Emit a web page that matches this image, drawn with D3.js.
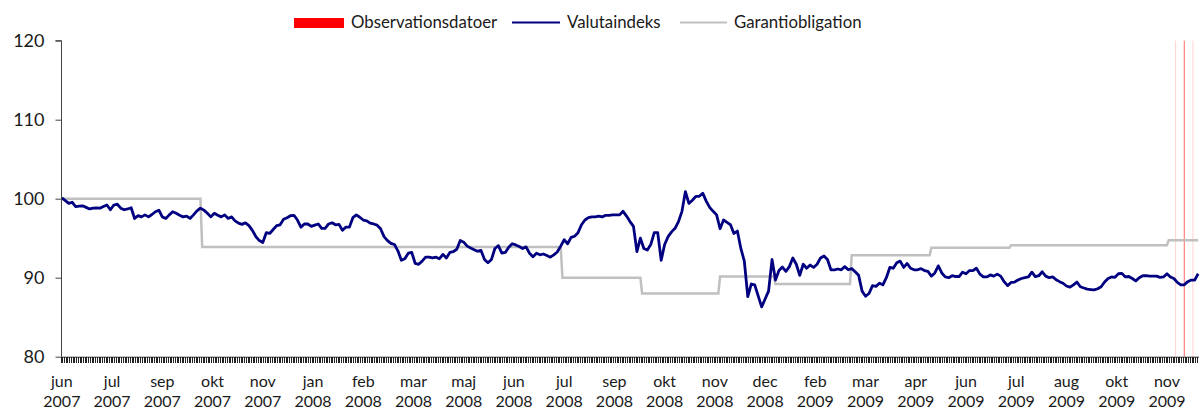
<!DOCTYPE html>
<html>
<head>
<meta charset="utf-8">
<script src="https://cdn.jsdelivr.net/npm/d3@7"></script>
<style>
  body { margin: 0; background: #fff; }
  svg text { font-family: Lato, "Open Sans", sans-serif; fill: #1a1a1a; }
</style>
</head>
<body>
<svg width="1200" height="410"></svg>
<script>
// daily categories on the x axis, a label every 29th day
var nDays = 657;
var labelEvery = 29;
var monthLabels = ['jun', 'jul', 'sep', 'okt', 'nov', 'jan', 'feb', 'mar', 'maj', 'jun', 'jul', 'sep',
    'okt', 'nov', 'dec', 'feb', 'mar', 'apr', 'jun', 'jul', 'aug', 'okt', 'nov'];
var yearLabels = ['2007', '2007', '2007', '2007', '2007', '2008', '2008', '2008', '2008', '2008', '2008', '2008',
    '2008', '2008', '2008', '2009', '2009', '2009', '2009', '2009', '2009', '2009', '2009'];
var yTicks = [80, 90, 100, 110, 120];

// Valutaindeks, read every second day
var valutaStep = 2;
var valutaindeks = [
    100.1, 99.75, 99.4, 99.55, 99.0, 99.05, 99.1, 98.9, 98.7, 98.8,
    98.85, 98.8, 99.0, 99.2, 98.6, 99.2, 99.3, 98.8, 98.6, 98.7,
    98.85, 97.5, 97.85, 97.7, 97.95, 97.7, 98.0, 98.35, 98.55, 97.7,
    97.5, 97.95, 98.35, 98.15, 97.9, 97.7, 97.8, 97.5, 97.95, 98.45,
    98.8, 98.55, 98.15, 97.7, 98.15, 97.9, 97.7, 97.95, 97.5, 97.7,
    97.2, 96.9, 96.75, 96.95, 96.6, 96.0, 95.2, 94.7, 94.45, 95.7,
    95.6, 96.1, 96.6, 96.7, 97.4, 97.6, 97.85, 97.9, 97.3, 96.4,
    96.8, 96.8, 96.5, 96.65, 96.8, 96.25, 96.25, 96.8, 96.95, 96.7,
    96.75, 96.0, 96.4, 96.4, 97.6, 97.95, 97.65, 97.3, 97.2, 96.9,
    96.8, 96.65, 96.2, 95.2, 94.7, 94.35, 94.2, 93.4, 92.2, 92.4,
    93.1, 93.2, 91.8, 91.7, 92.1, 92.6, 92.6, 92.5, 92.6, 92.4,
    92.95, 92.5, 93.2, 93.3, 93.6, 94.7, 94.5, 94.0, 93.75, 93.55,
    93.35, 93.45, 92.3, 91.9, 92.3, 93.7, 94.05, 93.1, 93.2, 93.85,
    94.3, 94.15, 93.95, 93.7, 93.9, 93.1, 92.65, 93.1, 92.9, 93.0,
    92.8, 92.6, 92.9, 93.25, 94.0, 94.8, 94.3, 95.1, 95.25, 95.7,
    96.7, 97.3, 97.6, 97.7, 97.7, 97.8, 97.7, 97.9, 97.9, 97.95,
    97.95, 97.95, 98.4, 97.8, 97.1, 96.5, 93.3, 95.0, 93.7, 93.5,
    94.2, 95.7, 95.7, 92.2, 94.2, 95.2, 95.8, 96.25, 97.1, 98.4,
    100.9, 99.4, 99.8, 100.3, 100.3, 100.7, 99.7, 98.9, 98.4, 97.95,
    96.2, 97.3, 97.0, 96.7, 95.6, 95.9, 93.7, 92.1, 87.6, 89.2,
    89.1, 87.7, 86.3, 87.3, 88.3, 92.3, 89.7, 90.9, 91.35, 90.8,
    91.4, 92.5, 91.7, 90.3, 91.7, 91.2, 91.6, 91.3, 91.7, 92.5,
    92.75, 92.3, 91.0, 91.0, 91.1, 91.0, 91.4, 91.0, 91.15, 90.75,
    90.3, 88.3, 87.65, 88.0, 89.0, 88.9, 89.3, 89.1, 90.0, 91.3,
    91.2, 91.9, 92.1, 91.3, 91.8, 91.2, 91.0, 91.0, 91.15, 90.9,
    90.8, 90.2, 90.6, 91.5, 90.6, 90.1, 90.0, 90.25, 90.15, 90.15,
    90.7, 90.5, 90.9, 90.9, 91.2, 90.45, 90.1, 90.1, 90.35, 90.2,
    90.45, 90.2, 89.5, 89.0, 89.4, 89.45, 89.7, 89.9, 90.0, 90.1,
    90.7, 90.15, 90.25, 90.75, 90.2, 90.0, 90.1, 89.75, 89.5, 89.3,
    88.95, 88.8, 89.1, 89.45, 88.85, 88.7, 88.55, 88.5, 88.45, 88.6,
    88.85, 89.45, 89.9, 90.1, 90.05, 90.5, 90.55, 90.1, 90.15, 89.9,
    89.6, 90.0, 90.25, 90.25, 90.2, 90.2, 90.2, 90.05, 90.1, 90.5,
    90.1, 89.9, 89.4, 89.1, 89.1, 89.5, 89.7, 89.7, 90.5
];

// Garantiobligation: first day of each level and the level
var garantiStart = [0, 81, 289, 335, 380, 412, 456, 502, 548, 639];
var garantiValue = [100, 93.9, 90.0, 88.0, 90.15, 89.2, 92.85, 93.8, 94.1, 94.75];

// Observationsdatoer
var observationDays = [643, 648, 653];

var svg = d3.select('svg');

var plotLeft = 61;
var plotRight = 1199;
var plotTop = 40.7;
var plotBottom = 356.7;

var x = d3.scaleBand().domain(d3.range(nDays)).range([plotLeft, plotRight]);
var cx = function (d) { return x(d) + x.bandwidth() / 2; };
var y = d3.scaleLinear().domain([80, 120]).range([plotBottom, plotTop]);

// observation lines
svg.append('g')
    .selectAll('line')
    .data(observationDays)
    .enter()
        .append('line')
        .attr('x1', cx).attr('x2', cx)
        .attr('y1', y(120)).attr('y2', y(80))
        .attr('stroke', '#ff0000')
        .attr('stroke-width', 1)
        .attr('stroke-opacity', function (d, i) { return i === 1 ? 0.6 : 0.18; });

// garantiobligation, held flat until the next level
var garantiPoints = [];
garantiStart.forEach(function (s, i) {
    var end = i < garantiStart.length - 1 ? garantiStart[i + 1] - 1 : nDays - 1;
    garantiPoints.push([s, garantiValue[i]]);
    garantiPoints.push([end, garantiValue[i]]);
});

var line = d3.line()
    .x(function (d) { return cx(d[0]); })
    .y(function (d) { return y(d[1]); });

svg.append('path')
    .datum(garantiPoints)
    .attr('fill', 'none')
    .attr('stroke', '#c0c0c0')
    .attr('stroke-width', 2.5)
    .attr('d', line);

svg.append('path')
    .datum(valutaindeks.map(function (v, i) { return [i * valutaStep, v]; }))
    .attr('fill', 'none')
    .attr('stroke', '#000080')
    .attr('stroke-width', 2.8)
    .attr('stroke-linejoin', 'round')
    .attr('d', line);

// y axis
var yAxis = svg.append('g')
    .attr('transform', 'translate(' + (plotLeft + 0.5) + ',0)')
    .call(d3.axisLeft(y).tickValues(yTicks).tickSize(6).tickPadding(11).tickFormat(d3.format('d')));
yAxis.select('.domain').attr('stroke', '#444').attr('d', 'M-6,' + plotTop + 'H0V' + plotBottom);
yAxis.selectAll('.tick line').attr('stroke', '#444');
yAxis.selectAll('.tick text').attr('font-size', 18).attr('font-family', 'Lato, sans-serif').attr('fill', '#1a1a1a');

// x axis: one tick per day
svg.append('line')
    .attr('x1', plotLeft).attr('x2', plotRight)
    .attr('y1', plotBottom + 0.5).attr('y2', plotBottom + 0.5)
    .attr('stroke', '#333');

svg.append('g')
    .attr('shape-rendering', 'crispEdges')
    .selectAll('line')
    .data(d3.range(nDays))
    .enter()
        .append('line')
        .attr('x1', function (d) { return x(d); })
        .attr('x2', function (d) { return x(d); })
        .attr('y1', plotBottom)
        .attr('y2', plotBottom + 6)
        .attr('stroke', '#222');

var xLabels = svg.append('g')
    .selectAll('text')
    .data(monthLabels)
    .enter()
        .append('text')
        .attr('text-anchor', 'middle')
        .attr('font-size', 16)
        .attr('transform', function (d, i) { return 'translate(' + cx(i * labelEvery) + ',0)'; });
xLabels.append('tspan').attr('x', 0).attr('y', 387).text(function (d) { return d; });
xLabels.append('tspan').attr('x', 0).attr('y', 407).text(function (d, i) { return yearLabels[i]; });

// legend
var legend = svg.append('g').attr('font-size', 16.8);
legend.append('rect').attr('x', 294).attr('y', 18).attr('width', 50).attr('height', 10).attr('fill', '#ff0000');
legend.append('text').attr('x', 351).attr('y', 28).text('Observationsdatoer');
legend.append('line').attr('x1', 512).attr('x2', 560).attr('y1', 22.5).attr('y2', 22.5)
    .attr('stroke', '#000080').attr('stroke-width', 2);
legend.append('text').attr('x', 567).attr('y', 28).text('Valutaindeks');
legend.append('line').attr('x1', 680).attr('x2', 727).attr('y1', 22.5).attr('y2', 22.5)
    .attr('stroke', '#c0c0c0').attr('stroke-width', 2);
legend.append('text').attr('x', 734).attr('y', 28).text('Garantiobligation');
</script>
</body>
</html>
